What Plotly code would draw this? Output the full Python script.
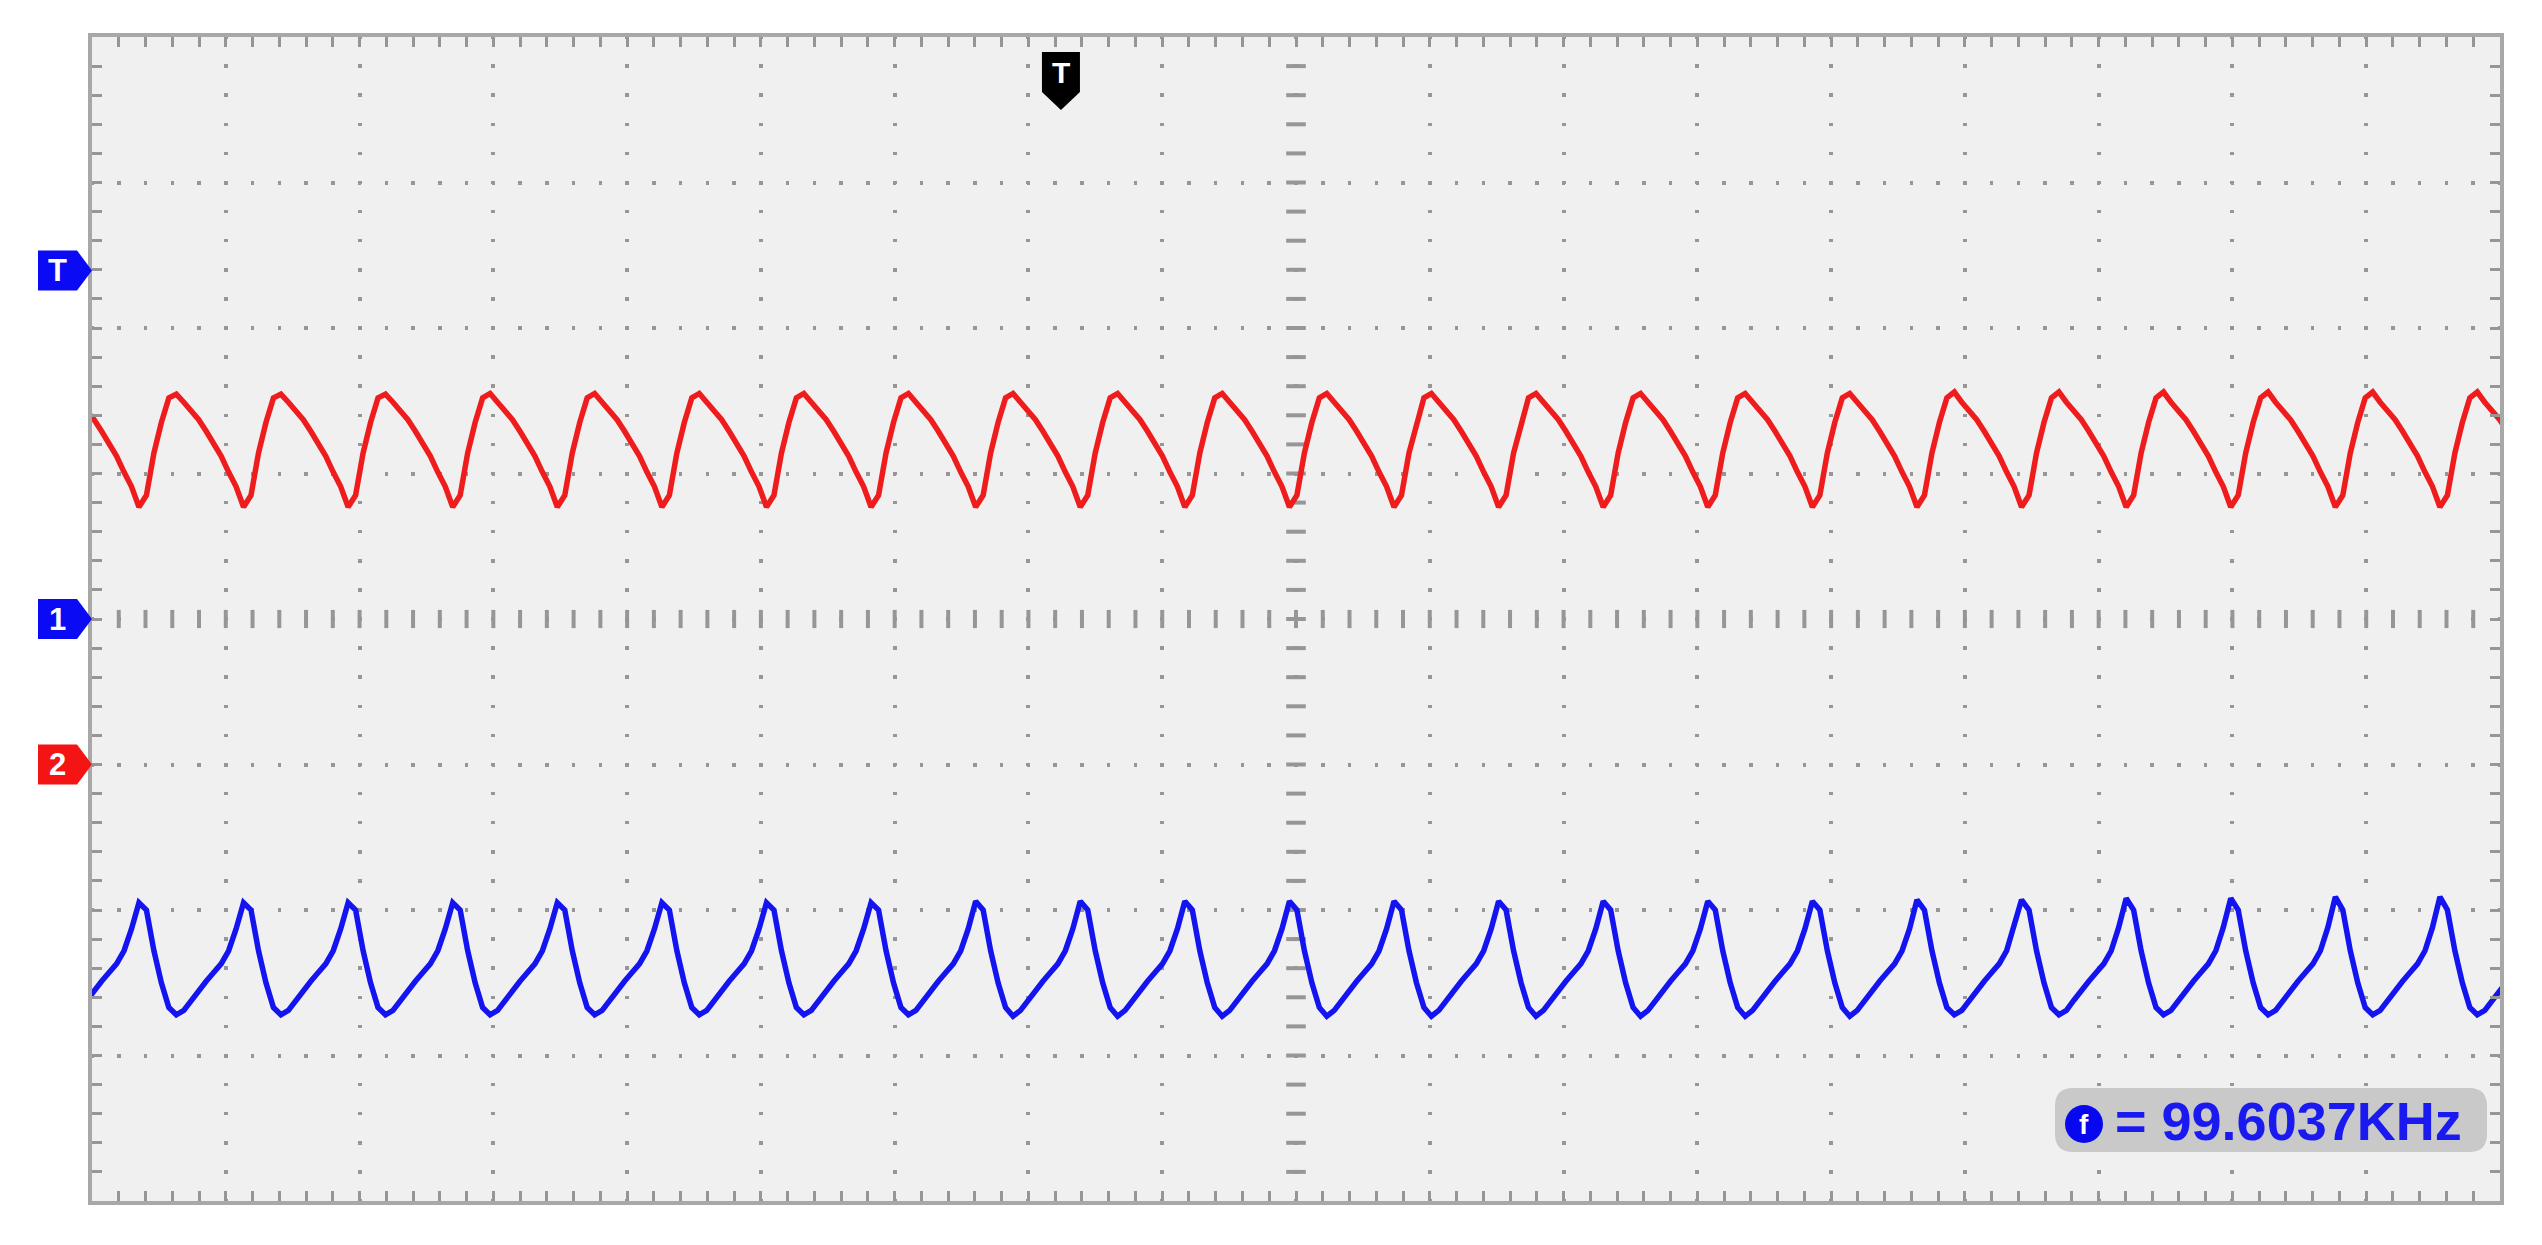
import numpy as np
import plotly.graph_objects as go

# scope screen, everything in divisions
X_DIVS = 18
Y_DIVS = 8
SUBDIV = 5

# time base of the captured record (divisions)
t_start = -0.4308
t_step = 0.055844  # 14 samples per cycle

# markers on the screen (divisions)
trig_level = 2.395
trig_pos = 7.243
ch1_offset = 0.0
ch2_offset = -1.0
freq_text = "= 99.6037KHz"

# channel 2 (red), one row per cycle
ch2_red = [
    0.77, 0.85, 1.14, 1.35, 1.52, 1.545, 1.49, 1.43, 1.37, 1.29, 1.21, 1.12, 1.01, 0.91,
    0.77, 0.85, 1.14, 1.35, 1.52, 1.545, 1.49, 1.43, 1.37, 1.29, 1.21, 1.12, 1.01, 0.91,
    0.77, 0.85, 1.14, 1.35, 1.52, 1.545, 1.49, 1.43, 1.37, 1.29, 1.21, 1.12, 1.01, 0.91,
    0.77, 0.85, 1.14, 1.35, 1.52, 1.545, 1.49, 1.43, 1.37, 1.29, 1.21, 1.12, 1.01, 0.91,
    0.77, 0.85, 1.14, 1.35, 1.52, 1.55, 1.49, 1.43, 1.37, 1.29, 1.21, 1.12, 1.01, 0.91,
    0.77, 0.85, 1.14, 1.35, 1.52, 1.55, 1.49, 1.43, 1.37, 1.29, 1.21, 1.12, 1.01, 0.91,
    0.77, 0.85, 1.14, 1.35, 1.52, 1.55, 1.49, 1.43, 1.37, 1.29, 1.21, 1.12, 1.01, 0.91,
    0.77, 0.85, 1.14, 1.35, 1.52, 1.55, 1.49, 1.43, 1.37, 1.29, 1.21, 1.12, 1.01, 0.91,
    0.77, 0.85, 1.14, 1.35, 1.52, 1.55, 1.49, 1.43, 1.37, 1.29, 1.21, 1.12, 1.01, 0.91,
    0.77, 0.85, 1.14, 1.35, 1.52, 1.55, 1.49, 1.43, 1.37, 1.29, 1.21, 1.12, 1.01, 0.91,
    0.77, 0.85, 1.14, 1.35, 1.52, 1.55, 1.49, 1.43, 1.37, 1.29, 1.21, 1.12, 1.01, 0.91,
    0.77, 0.85, 1.14, 1.35, 1.52, 1.55, 1.49, 1.43, 1.37, 1.29, 1.21, 1.12, 1.01, 0.91,
    0.77, 0.85, 1.14, 1.35, 1.52, 1.55, 1.49, 1.43, 1.37, 1.29, 1.21, 1.12, 1.01, 0.91,
    0.77, 0.85, 1.14, 1.35, 1.52, 1.55, 1.49, 1.43, 1.37, 1.29, 1.21, 1.12, 1.01, 0.91,
    0.77, 0.85, 1.14, 1.35, 1.52, 1.55, 1.49, 1.43, 1.37, 1.29, 1.21, 1.12, 1.01, 0.91,
    0.77, 0.85, 1.14, 1.35, 1.52, 1.55, 1.49, 1.43, 1.37, 1.29, 1.21, 1.12, 1.01, 0.91,
    0.77, 0.85, 1.14, 1.35, 1.52, 1.55, 1.49, 1.43, 1.37, 1.29, 1.21, 1.12, 1.01, 0.91,
    0.77, 0.85, 1.14, 1.35, 1.52, 1.55, 1.49, 1.43, 1.37, 1.29, 1.21, 1.12, 1.01, 0.91,
    0.77, 0.85, 1.14, 1.35, 1.52, 1.56, 1.49, 1.43, 1.37, 1.29, 1.21, 1.12, 1.01, 0.91,
    0.77, 0.85, 1.14, 1.35, 1.52, 1.56, 1.49, 1.43, 1.37, 1.29, 1.21, 1.12, 1.01, 0.91,
    0.77, 0.85, 1.14, 1.35, 1.52, 1.56, 1.49, 1.43, 1.37, 1.29, 1.21, 1.12, 1.01, 0.91,
    0.77, 0.85, 1.14, 1.35, 1.52, 1.56, 1.49, 1.43, 1.37, 1.29, 1.21, 1.12, 1.01, 0.91,
    0.77, 0.85, 1.14, 1.35, 1.52, 1.56, 1.49, 1.43, 1.37, 1.29, 1.21, 1.12, 1.01, 0.91,
    0.77, 0.85, 1.14, 1.35, 1.52, 1.56, 1.49, 1.43, 1.37, 1.29, 1.21, 1.12, 1.01, 0.91,
]

# channel 1 (blue), same record
ch1_blue = [
    -1.95, -2.00, -2.28, -2.50, -2.67, -2.72, -2.69, -2.62, -2.55, -2.49, -2.43, -2.37, -2.28, -2.13,
    -1.95, -2.00, -2.28, -2.50, -2.67, -2.72, -2.69, -2.62, -2.55, -2.49, -2.43, -2.37, -2.28, -2.13,
    -1.95, -2.00, -2.28, -2.50, -2.67, -2.72, -2.69, -2.62, -2.55, -2.49, -2.43, -2.37, -2.28, -2.13,
    -1.95, -2.00, -2.28, -2.50, -2.67, -2.72, -2.69, -2.62, -2.55, -2.49, -2.43, -2.37, -2.28, -2.13,
    -1.95, -2.00, -2.28, -2.50, -2.67, -2.72, -2.69, -2.62, -2.55, -2.49, -2.43, -2.37, -2.28, -2.13,
    -1.95, -2.00, -2.28, -2.50, -2.67, -2.72, -2.69, -2.62, -2.55, -2.49, -2.43, -2.37, -2.28, -2.13,
    -1.95, -2.00, -2.28, -2.50, -2.67, -2.72, -2.69, -2.62, -2.55, -2.49, -2.43, -2.37, -2.28, -2.13,
    -1.95, -2.00, -2.28, -2.50, -2.67, -2.72, -2.69, -2.62, -2.55, -2.49, -2.43, -2.37, -2.28, -2.13,
    -1.95, -2.00, -2.28, -2.50, -2.67, -2.72, -2.69, -2.62, -2.55, -2.49, -2.43, -2.37, -2.28, -2.13,
    -1.94, -2.00, -2.28, -2.50, -2.67, -2.73, -2.69, -2.62, -2.55, -2.49, -2.43, -2.37, -2.28, -2.13,
    -1.94, -2.00, -2.28, -2.50, -2.67, -2.73, -2.69, -2.62, -2.55, -2.49, -2.43, -2.37, -2.28, -2.13,
    -1.94, -2.00, -2.28, -2.50, -2.67, -2.73, -2.69, -2.62, -2.55, -2.49, -2.43, -2.37, -2.28, -2.13,
    -1.94, -2.00, -2.28, -2.50, -2.67, -2.73, -2.69, -2.62, -2.55, -2.49, -2.43, -2.37, -2.28, -2.13,
    -1.94, -2.00, -2.28, -2.50, -2.67, -2.73, -2.69, -2.62, -2.55, -2.49, -2.43, -2.37, -2.28, -2.13,
    -1.94, -2.00, -2.28, -2.50, -2.67, -2.73, -2.69, -2.62, -2.55, -2.49, -2.43, -2.37, -2.28, -2.13,
    -1.94, -2.00, -2.28, -2.50, -2.67, -2.73, -2.69, -2.62, -2.55, -2.49, -2.43, -2.37, -2.28, -2.13,
    -1.94, -2.00, -2.28, -2.50, -2.67, -2.73, -2.69, -2.62, -2.55, -2.49, -2.43, -2.37, -2.28, -2.13,
    -1.94, -2.00, -2.28, -2.50, -2.67, -2.73, -2.69, -2.62, -2.55, -2.49, -2.43, -2.37, -2.28, -2.13,
    -1.93, -2.00, -2.28, -2.50, -2.67, -2.72, -2.69, -2.62, -2.55, -2.49, -2.43, -2.37, -2.28, -2.12,
    -1.93, -2.00, -2.28, -2.50, -2.67, -2.72, -2.69, -2.62, -2.55, -2.49, -2.43, -2.37, -2.28, -2.12,
    -1.92, -2.00, -2.28, -2.50, -2.67, -2.72, -2.69, -2.62, -2.55, -2.49, -2.43, -2.37, -2.28, -2.12,
    -1.92, -2.00, -2.28, -2.50, -2.67, -2.72, -2.69, -2.62, -2.55, -2.49, -2.43, -2.37, -2.28, -2.12,
    -1.91, -2.00, -2.28, -2.50, -2.67, -2.72, -2.69, -2.62, -2.55, -2.49, -2.43, -2.37, -2.28, -2.12,
    -1.91, -2.00, -2.28, -2.50, -2.67, -2.72, -2.69, -2.62, -2.55, -2.49, -2.43, -2.37, -2.28, -2.12,
]

W, H = 2542, 1245
ML, MR, MT, MB = 92, 42, 37, 44
PW, PH = W - ML - MR, H - MT - MB

GRID = "#969696"
BORDER = "#a8a8a8"
RED = "#ee1c1c"
BLUE = "#1414f0"
FONT = "Liberation Sans, Arial, sans-serif"


def dot_dash(step_px, dot=3.5):
    # dots centred on every minor division along a grid line
    half = dot / 2
    return f"{half}px,{step_px - dot:.4f}px,{half}px,0px"


t = t_start + np.arange(len(ch2_red)) * t_step

fig = go.Figure()

# centre cross of the graticule (bigger marks)
cx = np.arange(0, X_DIVS + 1e-9, 1 / SUBDIV)[1:-1]
cy = np.arange(-Y_DIVS / 2, Y_DIVS / 2 + 1e-9, 1 / SUBDIV)[1:-1]
fig.add_trace(go.Scatter(
    x=cx, y=np.zeros_like(cx), mode="markers", hoverinfo="skip",
    marker=dict(symbol="line-ns", size=13, line=dict(width=4, color=GRID)),
))
fig.add_trace(go.Scatter(
    x=np.full_like(cy, X_DIVS / 2), y=cy, mode="markers", hoverinfo="skip",
    marker=dict(symbol="line-ew", size=14, line=dict(width=4, color=GRID)),
))

fig.add_trace(go.Scatter(x=t, y=ch2_red, mode="lines", name="CH2",
                         line=dict(color=RED, width=5.5)))
fig.add_trace(go.Scatter(x=t, y=ch1_blue, mode="lines", name="CH1",
                         line=dict(color=BLUE, width=5.5)))

axis_common = dict(
    showticklabels=False, zeroline=False, fixedrange=True,
    showline=True, linewidth=4, linecolor=BORDER, mirror="ticks",
    ticks="inside", ticklen=10, tickwidth=3, tickcolor=GRID,
    showgrid=True, gridcolor=GRID, gridwidth=3.5,
    minor=dict(ticks="inside", ticklen=10, tickwidth=3, tickcolor=GRID, showgrid=False),
)
fig.update_xaxes(range=[0, X_DIVS], tick0=0, dtick=1,
                 griddash=dot_dash(PH / (Y_DIVS * SUBDIV)),
                 **axis_common)
fig.update_xaxes(minor_dtick=1 / SUBDIV)
fig.update_yaxes(range=[-Y_DIVS / 2, Y_DIVS / 2], tick0=0, dtick=1,
                 griddash=dot_dash(PW / (X_DIVS * SUBDIV)),
                 **axis_common)
fig.update_yaxes(minor_dtick=1 / SUBDIV)


def paper_y(v):
    return (v + Y_DIVS / 2) / Y_DIVS


def side_tag(level, color, label):
    fig.add_shape(
        type="path", xref="paper", yref="paper",
        xsizemode="pixel", ysizemode="pixel", xanchor=0, yanchor=paper_y(level),
        path="M-54,-20 L-15,-20 L0,0 L-15,20 L-54,20 Z",
        fillcolor=color, line=dict(width=0), layer="above",
    )
    fig.add_annotation(
        x=0, y=paper_y(level), xref="paper", yref="paper", xshift=-35,
        text=label, showarrow=False, xanchor="center", yanchor="middle",
        font=dict(family=FONT, size=31, color="white", weight="bold"),
    )


side_tag(trig_level, "#0a0af5", "T")
side_tag(ch1_offset, "#0a0af5", "1")
side_tag(ch2_offset, "#f51414", "2")

# trigger position tag at the top
fig.add_shape(
    type="path", xref="paper", yref="paper",
    xsizemode="pixel", ysizemode="pixel", xanchor=trig_pos / X_DIVS, yanchor=1,
    path="M-19,-15 L19,-15 L19,-55 L0,-73 L-19,-55 Z",
    fillcolor="black", line=dict(width=0), layer="above",
)
fig.add_annotation(
    x=trig_pos / X_DIVS, y=1, xref="paper", yref="paper", yshift=-35,
    text="T", showarrow=False, xanchor="center", yanchor="middle",
    font=dict(family=FONT, size=30, color="white", weight="bold"),
)

# frequency readout
x0, x1, y0, y1, r = -445, -13, 49, 113, 18
fig.add_shape(
    type="path", xref="paper", yref="paper",
    xsizemode="pixel", ysizemode="pixel", xanchor=1, yanchor=0,
    path=(f"M{x0 + r},{y0} L{x1 - r},{y0} Q{x1},{y0} {x1},{y0 + r} "
          f"L{x1},{y1 - r} Q{x1},{y1} {x1 - r},{y1} L{x0 + r},{y1} "
          f"Q{x0},{y1} {x0},{y1 - r} L{x0},{y0 + r} Q{x0},{y0} {x0 + r},{y0} Z"),
    fillcolor="#c9c9c9", line=dict(width=0), layer="above",
)
fig.add_shape(
    type="circle", xref="paper", yref="paper",
    xsizemode="pixel", ysizemode="pixel", xanchor=1, yanchor=0,
    x0=-435, x1=-397, y0=58, y1=96,
    fillcolor="#0808f0", line=dict(width=0), layer="above",
)
fig.add_annotation(
    x=1, y=0, xref="paper", yref="paper", xshift=-416, yshift=77,
    text="f", showarrow=False, xanchor="center", yanchor="middle",
    font=dict(family=FONT, size=28, color="white", weight="bold"),
)
fig.add_annotation(
    x=1, y=0, xref="paper", yref="paper", xshift=-36, yshift=80,
    text=freq_text, showarrow=False, xanchor="right", yanchor="middle",
    font=dict(family=FONT, size=54, color="#1a1af0", weight="bold"),
)

fig.update_layout(
    width=W, height=H, showlegend=False,
    margin=dict(l=ML, r=MR, t=MT, b=MB, pad=0),
    paper_bgcolor="white", plot_bgcolor="#f0f0f0",
)

fig.write_html(
    "out.html",
    config={"displayModeBar": False},
    post_script="document.body.style.margin='0';document.body.style.overflow='hidden';",
)
